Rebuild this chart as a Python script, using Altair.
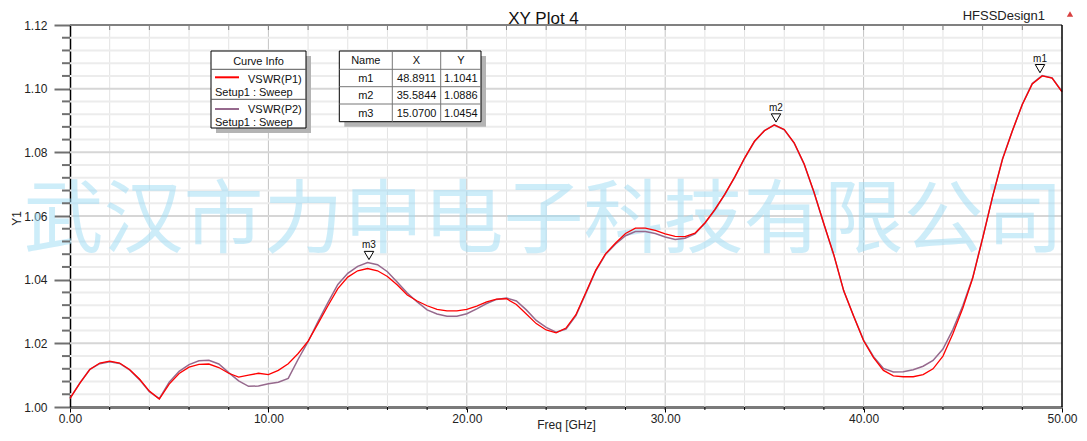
import altair as alt
import pandas as pd

# ---------------- data ----------------
freq = [0.0, 0.5, 1.0, 1.5, 2.0, 2.5, 3.0, 3.5, 4.0, 4.5,
        5.0, 5.5, 6.0, 6.5, 7.0, 7.5, 8.0, 8.5, 9.0, 9.5,
        10.0, 10.5, 11.0, 11.5, 12.0, 12.5, 13.0, 13.5, 14.0, 14.5,
        15.0, 15.5, 16.0, 16.5, 17.0, 17.5, 18.0, 18.5, 19.0, 19.5,
        20.0, 20.5, 21.0, 21.5, 22.0, 22.5, 23.0, 23.5, 24.0, 24.5,
        25.0, 25.5, 26.0, 26.5, 27.0, 27.5, 28.0, 28.5, 29.0, 29.5,
        30.0, 30.5, 31.0, 31.5, 32.0, 32.5, 33.0, 33.5, 34.0, 34.5,
        35.0, 35.5, 36.0, 36.5, 37.0, 37.5, 38.0, 38.5, 39.0, 39.5,
        40.0, 40.5, 41.0, 41.5, 42.0, 42.5, 43.0, 43.5, 44.0, 44.5,
        45.0, 45.5, 46.0, 46.5, 47.0, 47.5, 48.0, 48.5, 49.0, 49.5,
        50.0]

vswr_p1 = [1.0027, 1.0075, 1.0118, 1.0138, 1.0144, 1.0138, 1.0118, 1.0088, 1.0050, 1.0025,
           1.0072, 1.0105, 1.0125, 1.0134, 1.0135, 1.0124, 1.0106, 1.0094, 1.0100, 1.0106,
           1.0102, 1.0115, 1.0136, 1.0168, 1.0207, 1.0262, 1.0318, 1.0372, 1.0408, 1.0428,
           1.0435, 1.0428, 1.0410, 1.0383, 1.0352, 1.0333, 1.0318, 1.0307, 1.0302, 1.0302,
           1.0307, 1.0317, 1.0330, 1.0339, 1.0340, 1.0322, 1.0292, 1.0262, 1.0242, 1.0233,
           1.0248, 1.0290, 1.0360, 1.0430, 1.0482, 1.0515, 1.0545, 1.0562, 1.0562, 1.0555,
           1.0544, 1.0536, 1.0535, 1.0546, 1.0578, 1.0620, 1.0668, 1.0722, 1.0782, 1.0835,
           1.0868, 1.0886, 1.0872, 1.0830, 1.0764, 1.0675, 1.0575, 1.0478, 1.0365, 1.0285,
           1.0208, 1.0155, 1.0115, 1.0098, 1.0095, 1.0095, 1.0102, 1.0120, 1.0160, 1.0230,
           1.0310, 1.0405, 1.0530, 1.0660, 1.0778, 1.0868, 1.0950, 1.1015, 1.1040, 1.1033,
           1.0990]

vswr_p2 = [1.0027, 1.0076, 1.0118, 1.0136, 1.0142, 1.0137, 1.0117, 1.0086, 1.0048, 1.0026,
           1.0078, 1.0112, 1.0133, 1.0145, 1.0147, 1.0135, 1.0108, 1.0082, 1.0065, 1.0066,
           1.0073, 1.0078, 1.0090, 1.0150, 1.0205, 1.0268, 1.0328, 1.0385, 1.0420, 1.0442,
           1.0454, 1.0447, 1.0425, 1.0392, 1.0358, 1.0330, 1.0305, 1.0292, 1.0285, 1.0285,
           1.0293, 1.0308, 1.0325, 1.0338, 1.0342, 1.0333, 1.0305, 1.0272, 1.0250, 1.0235,
           1.0245, 1.0287, 1.0357, 1.0428, 1.0480, 1.0512, 1.0538, 1.0551, 1.0551, 1.0545,
           1.0534, 1.0526, 1.0530, 1.0544, 1.0577, 1.0619, 1.0667, 1.0721, 1.0781, 1.0834,
           1.0868, 1.0886, 1.0871, 1.0829, 1.0763, 1.0674, 1.0574, 1.0477, 1.0364, 1.0285,
           1.0210, 1.0158, 1.0121, 1.0110, 1.0111, 1.0117, 1.0128, 1.0146, 1.0182, 1.0243,
           1.0318, 1.0407, 1.0531, 1.0661, 1.0779, 1.0868, 1.0951, 1.1016, 1.1041, 1.1034,
           1.0991]

series_names = ["VSWR(P1)", "VSWR(P2)"]
setup_label = "Setup1 : Sweep"

marker_names = ["m1", "m2", "m3"]
marker_x = [48.8911, 35.5844, 15.0700]
marker_y = [1.1041, 1.0886, 1.0454]

x_major = [0, 10, 20, 30, 40, 50]
x_minor = [2, 4, 6, 8, 12, 14, 16, 18, 22, 24, 26, 28, 32, 34, 36, 38, 42, 44, 46, 48]
y_major = [1.00, 1.02, 1.04, 1.06, 1.08, 1.10, 1.12]
y_minor = [1.004, 1.008, 1.012, 1.016, 1.024, 1.028, 1.032, 1.036,
           1.044, 1.048, 1.052, 1.056, 1.064, 1.068, 1.072, 1.076,
           1.084, 1.088, 1.092, 1.096, 1.104, 1.108, 1.112, 1.116]

title_text = "XY Plot 4"
design_text = "HFSSDesign1"
watermark_text = "武汉市力申电子科技有限公司"
x_title = "Freq [GHz]"
y_title = "Y1"

# ---------------- build ----------------
W, H = 992, 382
FONT = "Liberation Sans"
RED = "#ff0000"
PURPLE = "#96698d"

xs = alt.Scale(domain=[0, 50], nice=False, zero=False)
ys = alt.Scale(domain=[1.0, 1.12], nice=False, zero=False)

X_AXIS = alt.Axis(values=x_major, format=".2f", tickSize=5, tickColor="black", tickWidth=1,
                  domainColor="#7a7a7a", domainWidth=3, labelPadding=1, labelFontSize=12,
                  labelFont=FONT, labelColor="#222", labelFlush=False, labelOverlap=False,
                  labelBound=False, grid=False, title=x_title, titleFont=FONT,
                  titleFontSize=12, titleFontWeight="normal", titleColor="#222",
                  titleBaseline="alphabetic", titleY=21)
Y_AXIS = alt.Axis(values=y_major, format=".2f", tickSize=16, tickColor="#707070", tickWidth=2,
                  domainColor="black", domainWidth=1.5, labelPadding=7, labelFontSize=12,
                  labelFont=FONT, labelColor="#222", labelOverlap=False, labelBound=False,
                  labelFlush=False, grid=False, title=y_title, titleFont=FONT,
                  titleFontSize=12, titleFontWeight="normal", titleColor="#222",
                  titleAngle=270, titleAlign="center", titleBaseline="alphabetic",
                  titleX=-50, titleY=193)


def XF(field):
    return alt.X(field, scale=xs, axis=X_AXIS)


def YF(field):
    return alt.Y(field, scale=ys, axis=Y_AXIS)


curves = pd.DataFrame({"freq": freq, "p1": vswr_p1, "p2": vswr_p2})
markers = pd.DataFrame({"name": marker_names, "x": marker_x, "y": marker_y})
one = pd.DataFrame({"k": [0]})

xall = sorted(x_minor + x_major[1:-1])
vminor = pd.DataFrame({"v": x_minor})
vmajor = pd.DataFrame({"v": x_major[1:-1]})
vall = pd.DataFrame({"v": xall})
hminor = pd.DataFrame({"v": y_minor})
hmajor = pd.DataFrame({"v": y_major[1:-1]})


def xrule(df, color, width):
    return alt.Chart(df).mark_rule(color=color, strokeWidth=width).encode(x=XF("v:Q"))


def yrule(df, color, width):
    return alt.Chart(df).mark_rule(color=color, strokeWidth=width).encode(y=YF("v:Q"))


def rect(x1, x2, y1, y2, **kw):
    return alt.Chart(one).mark_rect(**kw).encode(
        x=alt.value(x1), x2=alt.value(x2), y=alt.value(y1), y2=alt.value(y2))


def seg(x1, x2, y1, y2, color, width):
    return alt.Chart(one).mark_rule(color=color, strokeWidth=width).encode(
        x=alt.value(x1), x2=alt.value(x2), y=alt.value(y1), y2=alt.value(y2))


def txt(x, y, s, size=11, align="left", color="#111", **kw):
    return alt.Chart(one).mark_text(
        align=align, baseline="alphabetic", fontSize=size, font=FONT, color=color, **kw
    ).encode(x=alt.value(x), y=alt.value(y), text=alt.value(s))


layers = []
# grid
layers.append(xrule(vminor, "#e3e3e3", 1))
layers.append(xrule(vmajor, "#c4c4c4", 1))
layers.append(yrule(hminor, "#ececec", 2))
layers.append(yrule(hmajor, "#d6d6d6", 2))

# watermark
layers.append(alt.Chart(one).mark_text(
    align="center", baseline="alphabetic", fontSize=80, font="Noto Sans CJK SC",
    color="#9ddcf5", opacity=0.5
).encode(x=alt.value(473.5), y=alt.value(221), text=alt.value(watermark_text)))

# curves
layers.append(alt.Chart(curves).mark_line(color=PURPLE, strokeWidth=1.5).encode(
    x=XF("freq:Q"), y=YF("p2:Q")))
layers.append(alt.Chart(curves).mark_line(color=RED, strokeWidth=1.3).encode(
    x=XF("freq:Q"), y=YF("p1:Q")))

# markers
layers.append(alt.Chart(markers).mark_point(
    shape="triangle-down", size=90, filled=True, fill="white", stroke="black",
    strokeWidth=1, opacity=1, yOffset=-7).encode(x=XF("x:Q"), y=YF("y:Q")))
layers.append(alt.Chart(markers).mark_text(
    dy=-14, baseline="alphabetic", fontSize=10, font=FONT, color="#111").encode(
    x=XF("x:Q"), y=YF("y:Q"), text="name:N"))

# frame: top border and right border
layers.append(seg(0, W, 0, 0, "#808080", 2))
layers.append(seg(W, W, 0, H, "black", 1.5))
# extra ticks
layers.append(alt.Chart(vall).mark_rule(color="black", strokeWidth=1).encode(
    x=XF("v:Q"), y=alt.value(H), y2=alt.value(H + 3)))
layers.append(alt.Chart(vall).mark_rule(color="#808080", strokeWidth=1).encode(
    x=XF("v:Q"), y=alt.value(0), y2=alt.value(5)))
layers.append(alt.Chart(hminor).mark_rule(color="#707070", strokeWidth=2).encode(
    y=YF("v:Q"), x=alt.value(-8), x2=alt.value(0)))

# curve info legend box
lx1, lx2, ly1, ly2 = 141, 236, 26, 103
layers.append(rect(lx1 + 5, lx2 + 5, ly1 + 5, ly2 + 5, color="#b4b4b4"))
layers.append(rect(lx1, lx2, ly1, ly2, fill="white", stroke="black", strokeWidth=1))
layers.append(seg(lx1, lx2, 44.3, 44.3, "#555", 1))
layers.append(seg(lx1, lx2, 74.3, 74.3, "#555", 1))
layers.append(txt((lx1 + lx2) / 2, 40, "Curve Info", size=11, align="center"))
layers.append(seg(145, 169, 52.3, 52.3, RED, 2))
layers.append(txt(178, 58.3, series_names[0]))
layers.append(txt(145, 71, setup_label))
layers.append(seg(145, 169, 84, 84, PURPLE, 2))
layers.append(txt(178, 88, series_names[1]))
layers.append(txt(145, 100.5, setup_label))

# marker table
tx1, tx2, ty1, ty2 = 269.3, 411, 26, 96.7
c1, c2 = 322.3, 370.7
layers.append(rect(tx1 + 5, tx2 + 5, ty1 + 5, ty2 + 5, color="#b4b4b4"))
layers.append(rect(tx1, tx2, ty1, ty2, fill="white", stroke="black", strokeWidth=1))
for yy in [44.3, 61.7, 79.0]:
    layers.append(seg(tx1, tx2, yy, yy, "#777", 1))
layers.append(seg(c1, c1, ty1, ty2, "#777", 1))
layers.append(seg(c2, c2, ty1, ty2, "#777", 1))
col_name, col_x, col_y = (tx1 + c1) / 2, (c1 + c2) / 2, (c2 + tx2) / 2
layers.append(txt(col_name, 39, "Name", align="center"))
layers.append(txt(col_x, 39, "X", align="center"))
layers.append(txt(col_y, 39, "Y", align="center"))
row_base = [56.7, 74.0, 91.7]
for i in range(len(marker_names)):
    layers.append(txt(col_name, row_base[i], marker_names[i], align="center"))
    layers.append(txt(col_x, row_base[i], f"{marker_x[i]:.4f}", align="center"))
    layers.append(txt(col_y, row_base[i], f"{marker_y[i]:.4f}", align="center"))

# titles
layers.append(txt(473.5, -1.5, title_text, size=17, align="center", color="#111"))
layers.append(txt(975, -5, design_text, size=13, align="right", color="#222"))
layers.append(alt.Chart(one).mark_point(shape="triangle-up", filled=True, color="#d84040",
                                         size=40, opacity=1).encode(
    x=alt.value(1000), y=alt.value(-11)))

chart = alt.layer(*layers).properties(
    width=W, height=H,
    autosize=alt.AutoSizeParams(type="none"),
    padding={"left": 62, "top": 17, "right": 16, "bottom": 25},
    background="white",
).configure_view(stroke=None)

chart.save("out.html", embed_options={"renderer": "svg", "actions": False})
